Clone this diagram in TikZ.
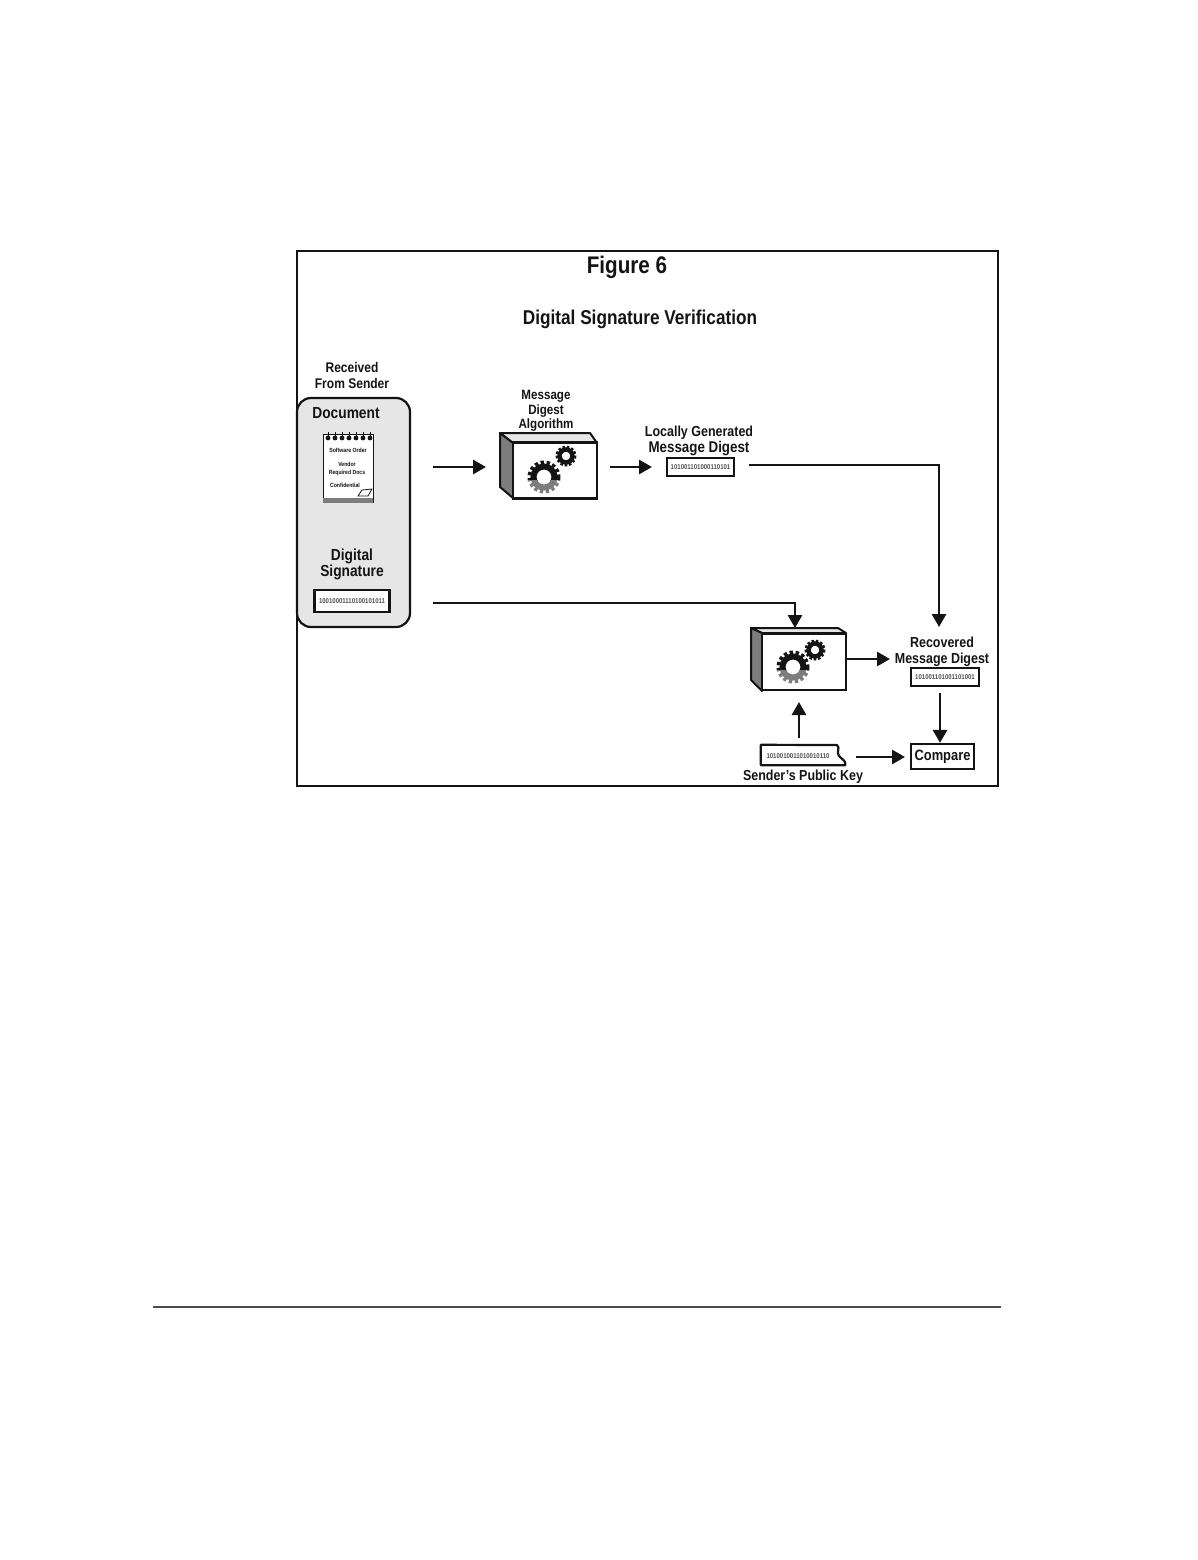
\documentclass[tikz,border=0pt]{standalone}
\usepackage{fontspec}
\setmainfont{Liberation Sans}[FakeStretch=0.86]
\usetikzlibrary{positioning,arrows.meta,calc}
\definecolor{PanelGray}{RGB}{230,230,230}
\definecolor{SideGray}{RGB}{125,125,125}
\definecolor{InkBlack}{RGB}{20,20,20}
\tikzset{
	label/.style={inner sep=0pt,align=center,text=InkBlack,font=\bfseries\fontsize{#1}{#1}\selectfont},
	label/.default=14,
	twoline/.style={label=14,font=\bfseries\fontsize{14}{15.5}\selectfont},
	flow/.style={draw=InkBlack,line width=2.8pt,-{Triangle[length=13pt,width=14pt]}},
	digest/.style={draw=InkBlack,line width=2.2pt,fill=white,inner sep=0pt,text=InkBlack!75,font=\bfseries\fontsize{7}{7}\selectfont},
	notetext/.style={inner sep=0pt,text=InkBlack,font=\bfseries\fontsize{6}{6}\selectfont},
	gearfront/.style={draw=InkBlack,line width=2.4pt,fill=white,inner sep=0pt,minimum width=84pt,minimum height=56pt},
	biggear/.pic={
		\begin{scope}
			\clip (-20,-20) rectangle (20,3);
			\draw[InkBlack,line width=4pt,dash pattern=on 3.3pt off 2.6pt] (0,0) circle (14.5);
			\draw[InkBlack,line width=6pt] (0,0) circle (10.5);
		\end{scope}
		\begin{scope}
			\clip (-20,3) rectangle (20,20);
			\draw[SideGray,line width=4pt,dash pattern=on 3.3pt off 2.6pt] (0,0) circle (14.5);
			\draw[SideGray,line width=6pt] (0,0) circle (10.5);
		\end{scope}
	},
	smallgear/.pic={
		\draw[InkBlack,line width=3pt,dash pattern=on 2.4pt off 1.9pt] (0,0) circle (9);
		\draw[InkBlack,line width=4.5pt] (0,0) circle (6.5);
	},
}
\begin{document}
\begin{tikzpicture}[x=1pt,y=-1pt]
	\useasboundingbox (0,0) rectangle (1198,1560);
	\fill[white] (0,0) rectangle (1198,1560);
	\draw[InkBlack,line width=2pt] (297,251) rectangle (998,786);
	\draw[black!70,line width=1.3pt] (153,1307) -- (1001,1307);

	\node[label=24] (figtitle) at (627,267.5) {Figure 6};
	\node[label=20] (mainTitle) at (640,319) {Digital Signature Verification};
	\node[twoline] (received) at (352,375.5) {Received\\From Sender};

	\draw[InkBlack,line width=2.2pt,fill=PanelGray,rounded corners=14pt] (297,398) rectangle (410,627);
	\node[label=16] (document) at (346,413.5) {Document};
	\node[draw=InkBlack,line width=1pt,fill=white,minimum width=50pt,minimum height=68pt,inner sep=0pt] (notepad) at (348,468) {};
	\fill[SideGray] (323,498) rectangle (373,503);
	\foreach \x in {328,335,342,349,356,363,370} {
		\draw[InkBlack,line width=1pt] (\x,432) -- (\x,437);
		\fill[InkBlack] (\x,438) circle (2.4);
	}
	\node[notetext] (noteA) at (348,450) {Software Order};
	\node[notetext] (noteB) at (347,464) {Vendor};
	\node[notetext] (noteC) at (347,473) {Required Docs};
	\node[notetext] (noteD) at (345,485) {Confidential};
	\draw[InkBlack,line width=.8pt,fill=white] (358,496) -- (362,490) -- (372,489) -- (368,496) -- cycle;

	\node[twoline,font=\bfseries\fontsize{16}{16}\selectfont] (signature) at (352,564.5) {Digital\\Signature};
	\node[digest,minimum width=75pt,minimum height=22pt] (sigbox) at (352,601) {10010001110100101011};

	\draw[InkBlack,line width=2pt,fill=PanelGray,line join=round] (500,433) -- (590,433) -- (597,443) -- (513,443) -- cycle;
	\draw[InkBlack,line width=2pt,fill=SideGray,line join=round] (500,433) -- (513,443) -- (513,498) -- (500,487) -- cycle;
	\node[gearfront] (gearA) at (555,470.5) {};
	\pic at (544,477) {biggear};
	\pic at (566,456) {smallgear};
	\node[twoline,font=\bfseries\fontsize{13.5}{14.5}\selectfont] (gearAtitle) at (546,411) {Message\\Digest\\Algorithm};

	\node[twoline,font=\bfseries\fontsize{14.5}{16}\selectfont] (localtitle) at (699,441) {Locally Generated\\{\fontsize{15.5}{16}\selectfont Message Digest}};
	\node[digest,minimum width=67pt,minimum height=18pt] (localbox) at (700.5,467) {101001101000110101};

	\draw[InkBlack,line width=2pt,fill=PanelGray,line join=round] (751,628) -- (838,628) -- (846,633) -- (762,633) -- cycle;
	\draw[InkBlack,line width=2pt,fill=SideGray,line join=round] (751,628) -- (762,633) -- (762,691) -- (751,680) -- cycle;
	\node[gearfront] (gearB) at (804,662) {};
	\pic at (793,667) {biggear};
	\pic at (815,650) {smallgear};

	\node[twoline,font=\bfseries\fontsize{14.5}{16}\selectfont] (recovered) at (942,652) {Recovered\\Message Digest};
	\node[digest,minimum width=68pt,minimum height=18pt] (recoveredbox) at (945,677) {101001101001101001};
	\node[draw=InkBlack,line width=2.2pt,fill=white,inner sep=0pt,minimum width=63pt,minimum height=25pt,label=15] (compare) at (942.5,756.5) {Compare};

	\node[inner sep=0pt,minimum width=84pt,minimum height=20pt] (pubkey) at (803,755) {};
	\draw[InkBlack,line width=2.2pt,fill=white,line join=round] (pubkey.north west) -- (837,745) .. controls (841,748) and (835,752) .. (840,757) .. controls (843,760) and (846,761) .. (pubkey.south east) -- (pubkey.south west) -- cycle;
	\node[digest,draw=none,fill=none] (pubkeytext) at (798,756) {1010010011010010110};
	\node[label=14.5] (pubkeytitle) at (803,776.5) {Sender's Public Key};

	\coordinate (outA) at (433,467);
	\coordinate (inA) at (486,467);
	\coordinate (outB) at (610,467);
	\coordinate (inB) at (652,467);
	\coordinate (outC) at (749,465);
	\coordinate (inC) at (939,627);
	\coordinate (outD) at (433,603);
	\coordinate (inD) at (795,628);
	\coordinate (inE) at (890,659);
	\coordinate (outF) at (940,693);
	\coordinate (outG) at (799,738);
	\coordinate (inG) at (799,702);
	\coordinate (outH) at (856,757);
	\coordinate (inH) at (905,757);

	\draw[flow] (outA) -- (inA);
	\draw[flow] (outB) -- (inB);
	\draw[flow] (outC) -| (inC);
	\draw[flow] (outD) -| (inD);
	\draw[flow] (gearB.east |- inE) -- (inE);
	\draw[flow] (outF) -- (compare.north -| outF);
	\draw[flow] (outG) -- (inG);
	\draw[flow] (outH) -- (inH);
\end{tikzpicture}
\end{document}
